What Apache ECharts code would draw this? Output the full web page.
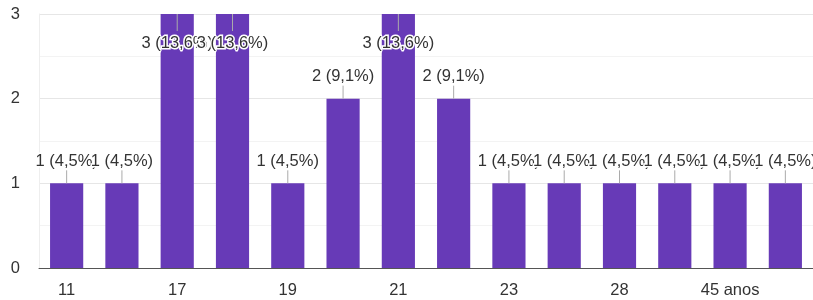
<!DOCTYPE html>
<html>
<head>
<meta charset="utf-8">
<script src="https://cdn.jsdelivr.net/npm/echarts@6/dist/echarts.min.js"></script>
<style>html,body{margin:0;padding:0;background:#fff}#c{width:813px;height:300px}</style>
</head>
<body>
<div id="c"></div>
<script>
const categories = ["11","16","17","18","19","20","21","22","23","25","28","35","45 anos","50"];
const counts = [1,1,3,3,1,2,3,2,1,1,1,1,1,1];
const yTicks = [0,1,2,3];

const total = counts.reduce((a,b)=>a+b,0);
const fmt = v => v + ' (' + (v/total*100).toFixed(1).replace('.', ',') + '%)';

const chart = echarts.init(document.getElementById('c'));
chart.setOption({
  animation: false,
  grid: {left: 39, right: 0, top: 14, bottom: 32},
  xAxis: {
    type: 'category',
    data: categories,
    axisLine: {lineStyle: {color: '#555', width: 1}},
    axisTick: {show: false},
    axisLabel: {interval: 1, color: '#333', fontSize: 16.5, fontFamily: 'Liberation Sans, Arial', margin: 14}
  },
  yAxis: {
    type: 'value',
    min: yTicks[0], max: yTicks[yTicks.length-1], interval: 1,
    axisLine: {show: true, lineStyle: {color: '#eee'}},
    axisTick: {show: false},
    axisLabel: {color: '#333', fontSize: 16.5, fontFamily: 'Liberation Sans, Arial', margin: 19},
    splitLine: {lineStyle: {color: '#e6e6e6'}},
    minorTick: {show: false, splitNumber: 2},
    minorSplitLine: {show: true, lineStyle: {color: '#f3f3f3'}}
  },
  series: [
    {
      type: 'bar',
      data: counts,
      barWidth: '60%',
      itemStyle: {color: '#673ab7'}
    },
    {
      type: 'custom',
      data: counts.map((v,i)=>[i,v]),
      z: 10,
      renderItem: function(params, api) {
        const i = api.value(0), v = api.value(1);
        const top = api.coord([i, v]);
        const gridTop = params.coordSys.y;
        let ty, y1, y2;
        if (top[1] - 22 - 9 < gridTop) {
          ty = top[1] + 29; y1 = top[1]; y2 = ty - 12;
        } else {
          ty = top[1] - 22; y1 = ty + 9; y2 = top[1];
        }
        return {
          type: 'group',
          children: [
            {type: 'line', shape: {x1: top[0], y1: y1, x2: top[0], y2: y2},
             style: {stroke: '#aaa', lineWidth: 1}},
            {type: 'text', x: top[0], y: ty,
             style: {text: fmt(v), fill: '#333', font: '16.5px Liberation Sans, Arial',
                     align: 'center', verticalAlign: 'middle',
                     stroke: '#fff', lineWidth: 3}}
          ]
        };
      }
    }
  ]
});
</script>
</body>
</html>
